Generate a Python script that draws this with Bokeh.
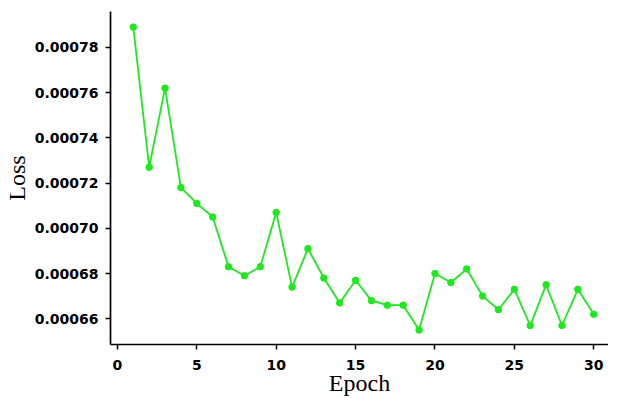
from bokeh.plotting import figure
from bokeh.models import FixedTicker, PrintfTickFormatter, Range1d
from bokeh.embed import file_html
from bokeh.resources import INLINE

epochs = list(range(1, 31))
loss = [0.000789, 0.000727, 0.000762, 0.000718, 0.000711, 0.000705, 0.000683, 0.000679,
        0.000683, 0.000707, 0.000674, 0.000691, 0.000678, 0.000667, 0.000677, 0.000668,
        0.000666, 0.000666, 0.000655, 0.000680, 0.000676, 0.000682, 0.000670, 0.000664,
        0.000673, 0.000657, 0.000675, 0.000657, 0.000673, 0.000662]
x_ticks = [0, 5, 10, 15, 20, 25, 30]
y_ticks = [0.00066, 0.00068, 0.00070, 0.00072, 0.00074, 0.00076, 0.00078]

p = figure(width=608, height=398, output_backend="svg", toolbar_location=None,
           x_range=Range1d(-0.435, 30.93), y_range=Range1d(0.0006486, 0.0007959),
           min_border_left=103, min_border_right=0, min_border_top=11, min_border_bottom=54)
p.outline_line_color = None
p.xgrid.visible = False
p.ygrid.visible = False
p.background_fill_color = "white"
p.border_fill_color = "white"

green = "#1ee81e"
p.line(epochs, loss, line_color=green, line_width=1.8)
p.scatter(epochs, loss, size=6.5, fill_color=green, line_color=green)

for ax in (p.xaxis[0], p.yaxis[0]):
    ax.axis_line_color = "black"
    ax.axis_line_width = 1.7
    ax.major_tick_line_color = "black"
    ax.major_tick_line_width = 1.5
    ax.major_tick_out = 5
    ax.major_tick_in = 0
    ax.minor_tick_line_color = None
    ax.major_label_text_font = "DejaVu Sans"
    ax.major_label_text_font_style = "bold"
    ax.major_label_text_font_size = "14px"
    ax.major_label_text_color = "black"
    ax.axis_label_text_font = "Liberation Serif"
    ax.axis_label_text_font_style = "normal"
    ax.axis_label_text_font_size = "24px"
    ax.axis_label_text_color = "black"

p.xaxis.ticker = FixedTicker(ticks=x_ticks)
p.yaxis.ticker = FixedTicker(ticks=y_ticks)
p.yaxis.formatter = PrintfTickFormatter(format="%.5f")
p.xaxis.axis_label = "Epoch"
p.yaxis.axis_label = "Loss"
p.xaxis.major_label_standoff = 10
p.yaxis.major_label_standoff = 7
p.xaxis.axis_label_standoff = -3
p.yaxis.axis_label_standoff = 2

open("out.html", "w").write(file_html(p, INLINE))
